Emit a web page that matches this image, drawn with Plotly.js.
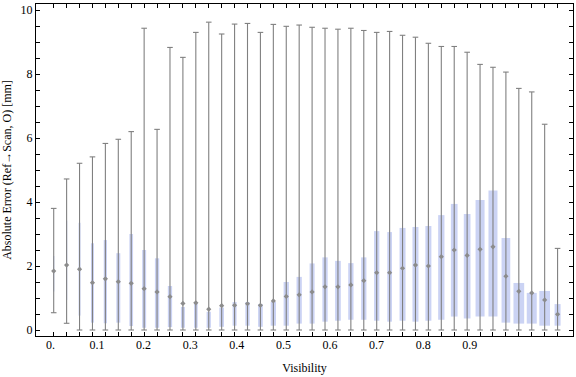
<!DOCTYPE html>
<html>
<head>
<meta charset="utf-8">
<script src="https://cdn.plot.ly/plotly-3.0.1.min.js"></script>
<style>html,body{margin:0;padding:0;background:#fff;}#chart{width:576px;height:377px;}</style>
</head>
<body>
<div id="chart"></div>
<script>
// Visibility bins (box index along the chart)
const bins = [1,2,3,4,5,6,7,8,9,10,11,12,13,14,15,16,17,18,19,20,21,22,23,24,25,26,27,28,29,30,31,32,33,34,35,36,37,38,39,40];
// Whisker ends (min / max), quartiles and mean of absolute error [mm]
const whiskerLow  = [0.54,0.21,0,0,0,0,0,0,0,0,0,0,0,0,0,0,0,0,0,0,0,0,0,0,0,0,0,0,0,0,0,0,0,0,0,0,0,0,0,0];
const whiskerHigh = [3.80,4.72,5.21,5.41,5.83,5.96,6.20,9.43,6.27,8.83,8.52,9.30,9.62,9.25,9.56,9.58,9.30,9.55,9.49,9.53,
                     9.46,9.43,9.40,9.43,9.36,9.30,9.33,9.21,9.15,8.96,8.86,8.86,8.68,8.30,8.21,8.06,7.55,7.44,6.43,2.55];
const q1 = [1.20,0.94,0.45,0.23,0.21,0.23,0.125,0.07,0.07,0.09,0.07,0.07,0.07,0.10,0.135,0.135,0.10,0.135,0.135,0.20,
            0.20,0.26,0.29,0.32,0.32,0.29,0.26,0.29,0.26,0.29,0.32,0.42,0.36,0.42,0.42,0.23,0.20,0.20,0.135,0.135];
const q3 = [2.31,3.42,3.35,2.71,2.81,2.40,3.00,2.50,2.24,1.375,0.72,0.85,0.57,0.70,0.875,0.875,0.81,0.875,1.50,1.66,
            2.08,2.27,2.16,2.09,2.27,3.09,3.06,3.19,3.22,3.25,3.59,3.94,3.625,4.06,4.36,2.875,1.47,1.16,1.22,0.81];
const means = [1.84,2.03,1.90,1.48,1.60,1.51,1.46,1.29,1.19,1.04,0.83,0.85,0.65,0.76,0.77,0.82,0.77,0.91,1.05,1.10,
               1.19,1.35,1.35,1.41,1.54,1.79,1.79,1.93,2.03,2.00,2.29,2.50,2.33,2.52,2.60,1.68,1.21,1.16,0.94,0.49];
// Relative sample weight of each bin
const binWeight = [1.3,1.3,2,3,3.3,4,3.7,4,4.3,4.3,4,3.7,4.3,4.7,4,4.3,4.7,5.3,5.3,5.3,
                   5,5.3,5.7,5.3,5.3,5.3,4.7,6,6,6,6.3,6.7,6.7,9,9,8.7,10.7,10,10.7,6];
// Visibility tick labels
const visTicks  = [0,0.1,0.2,0.3,0.4,0.5,0.6,0.7,0.8,0.9];
const visLabels = ['0.','0.1','0.2','0.3','0.4','0.5','0.6','0.7','0.8','0.9'];

const FONT = 'Liberation Serif, Times New Roman, serif';
const GREY = '#808080';
const BOXC = '#cbd3f4';
const pxPerBin = 12.92;

const wx = [], wy = [];
bins.forEach((b,i)=>{ wx.push(b,b,null); wy.push(whiskerLow[i], whiskerHigh[i], null); });

const traces = [
  {type:'scatter', mode:'lines', x:wx, y:wy, line:{color:GREY, width:1.1}, hoverinfo:'skip', showlegend:false},
  {type:'scatter', mode:'markers', x:bins.concat(bins), y:whiskerLow.concat(whiskerHigh),
   marker:{symbol:'line-ew', size:4, line:{color:GREY, width:1.1}}, hoverinfo:'skip', showlegend:false},
  {type:'bar', x:bins, y:q3.map((v,i)=>v-q1[i]), base:q1, width:binWeight.map(w=>w/pxPerBin),
   marker:{color:BOXC, line:{width:0}}, hoverinfo:'skip', showlegend:false},
  {type:'scatter', mode:'markers', x:bins, y:means,
   marker:{symbol:'diamond', size:4, color:'#8c8c8c', line:{width:0}}, hoverinfo:'skip', showlegend:false},
  {type:'scatter', mode:'markers', x:[visTicks[0]], y:[0], xaxis:'x2', marker:{opacity:0}, hoverinfo:'skip', showlegend:false}
];

const layout = {
  width:576, height:377,
  margin:{l:36, r:3, t:4, b:41},
  paper_bgcolor:'#fff', plot_bgcolor:'#fff',
  showlegend:false,
  font:{family:FONT, size:12, color:'#000'},
  xaxis:{
    range:[1-17.7/pxPerBin, 1+(573-53.7)/pxPerBin],
    tickvals:bins, showticklabels:false,
    ticks:'inside', ticklen:4, tickcolor:'#000', tickwidth:1,
    showline:true, linecolor:'#000', linewidth:1, mirror:'allticks',
    showgrid:false, zeroline:false, fixedrange:true
  },
  xaxis2:{
    overlaying:'x', anchor:'y', side:'bottom',
    range:[(36-50.4)/466, (573-50.4)/466],
    tickvals:visTicks, ticktext:visLabels, ticks:'',
    showline:false, showgrid:false, zeroline:false,
    tickfont:{family:FONT, size:12, color:'#000'},
    title:{text:'Visibility', font:{family:FONT, size:12, color:'#000'}, standoff:12}
  },
  yaxis:{
    range:[-6/32, 10+6/32],
    tickvals:[0,2,4,6,8,10],
    ticks:'inside', ticklen:4, tickcolor:'#000',
    minor:{dtick:0.5, ticks:'inside', ticklen:2.5, tickcolor:'#000', showgrid:false},
    showline:true, linecolor:'#000', linewidth:1, mirror:'allticks',
    showgrid:false, zeroline:false,
    tickfont:{family:FONT, size:12, color:'#000'},
    title:{text:'Absolute Error (Ref\u2192Scan, O) [mm]', font:{family:FONT, size:12, color:'#000'}, standoff:8}
  }
};

Plotly.newPlot('chart', traces, layout, {displayModeBar:false, staticPlot:true});
</script>
</body>
</html>
